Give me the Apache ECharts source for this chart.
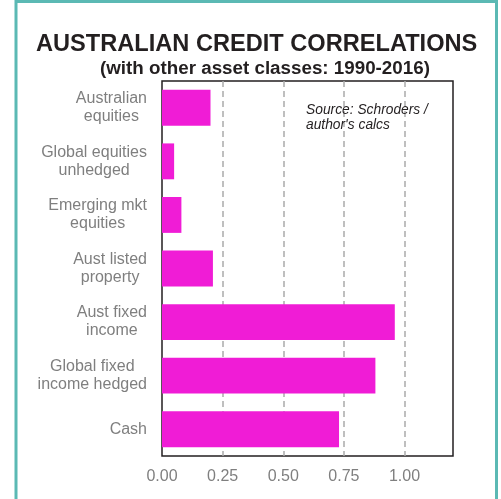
<!DOCTYPE html>
<html>
<head>
<meta charset="utf-8">
<script src="https://cdn.jsdelivr.net/npm/echarts@6/dist/echarts.min.js"></script>
<style>
  html, body { margin: 0; padding: 0; background: #ffffff; }
  #chart { width: 501px; height: 499px; }
</style>
</head>
<body>
<div id="chart"></div>
<script>
// Asset classes (top to bottom) and their correlation with Australian credit
const categories = [
  'Australian\nequities',
  'Global equities\nunhedged',
  'Emerging mkt\nequities',
  'Aust listed\nproperty',
  'Aust fixed\nincome',
  'Global fixed\nincome hedged',
  'Cash'
];
const correlations = [0.20, 0.05, 0.08, 0.21, 0.96, 0.88, 0.73];

const titleText = 'AUSTRALIAN CREDIT CORRELATIONS';
const subtitleText = '(with other asset classes: 1990-2016)';
const sourceText = "Source: Schroders /\nauthor's calcs";

const FONT = "'Liberation Sans', Arial, sans-serif";
const chart = echarts.init(document.getElementById('chart'), null, { renderer: 'canvas' });

chart.setOption({
  backgroundColor: '#ffffff',
  animation: false,
  title: [
    {
      text: titleText,
      left: 36, top: 32, padding: 0,
      textStyle: { fontFamily: FONT, fontSize: 23.6, fontWeight: 'bold', color: '#231f20' }
    },
    {
      text: subtitleText,
      left: 100, top: 59, padding: 0,
      textStyle: { fontFamily: FONT, fontSize: 18.8, fontWeight: 'bold', color: '#231f20' }
    }
  ],
  grid: {
    left: 162, top: 81, width: 291, height: 375,
    show: true, borderColor: '#231f20', borderWidth: 1.5,
    containLabel: false
  },
  xAxis: {
    type: 'value',
    min: 0, max: 1.2, interval: 0.25,
    axisLine: { show: false },
    axisTick: { show: false },
    splitLine: {
      show: true, showMinLine: false, showMaxLine: false,
      lineStyle: { color: '#aaaaaa', width: 1.5, type: [6, 4] }
    },
    axisLabel: {
      margin: 13,
      fontFamily: FONT, fontSize: 16, color: '#7f7f7f',
      formatter: v => (v > 1.001 ? '' : v.toFixed(2))
    }
  },
  yAxis: {
    type: 'category',
    inverse: true,
    data: categories,
    axisLine: { show: false },
    axisTick: { show: false },
    splitLine: { show: false },
    axisLabel: {
      margin: 15,
      formatter: v => v.split('\n').map(s => '{c|' + s + '}').join('\n'),
      rich: {
        c: { align: 'center', fontFamily: FONT, fontSize: 16, lineHeight: 18, color: '#7f7f7f' }
      }
    }
  },
  series: [{
    type: 'bar',
    data: correlations,
    barCategoryGap: '33%',
    itemStyle: { color: '#f01cd6' },
    z: 3
  }],
  graphic: [
    {
      type: 'text',
      left: 306, top: 103,
      style: {
        text: sourceText,
        font: 'italic 13.8px ' + FONT,
        fill: '#231f20',
        lineHeight: 15
      },
      z: 10
    },
    {
      type: 'rect',
      shape: { x: 16, y: 1.5, width: 480.5, height: 520 },
      style: { fill: null, stroke: '#5bb9b4', lineWidth: 3 },
      silent: true,
      z: 20
    }
  ]
});
</script>
</body>
</html>
